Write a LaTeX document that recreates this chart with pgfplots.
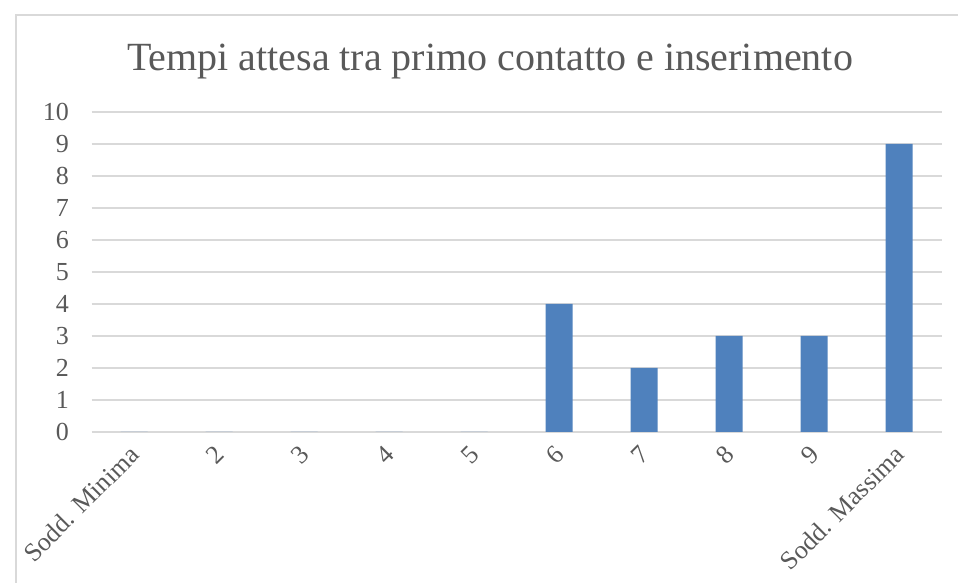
\documentclass[border=0pt]{standalone}
\usepackage{pgfplots}
\pgfplotsset{compat=1.18}
\usepackage{fontspec}
\setmainfont{Liberation Serif}
\definecolor{barblue}{RGB}{79,129,189}
\definecolor{gridgray}{RGB}{217,217,217}
\definecolor{txtgray}{RGB}{89,89,89}
\begin{document}
\begin{tikzpicture}[x=1pt,y=1pt]
\useasboundingbox (0,0) rectangle (958,583);
\draw[gridgray, line width=1.5pt] (16,-5) -- (16,568) -- (965,568);
\node[txtgray, font=\fontsize{40}{46}\selectfont] at (490,521) {Tempi attesa tra primo contatto e inserimento};
\begin{axis}[
  at={(91.5pt,151pt)}, anchor=south west,
  scale only axis, width=850pt, height=320pt,
  xmin=-0.5, xmax=9.5, ymin=0, ymax=10,
  ytick={0,1,...,10},
  xtick={0,1,...,9},
  xticklabels={Sodd. Minima,2,3,4,5,6,7,8,9,Sodd. Massima},
  axis line style={draw=none},
  major tick length=0pt,
  ymajorgrids,
  grid style={gridgray, line width=1.3pt},
  /pgf/number format/assume math mode=true,
  ticklabel style={txtgray, font=\fontsize{26}{30}\selectfont},
  yticklabel style={xshift=-19pt},
  xticklabel style={xshift=3pt, yshift=-16pt, rotate=45, anchor=east},
]
\addplot[ybar, fill=barblue, draw=none, bar width=27pt] coordinates {
  (0,0) (1,0) (2,0) (3,0) (4,0) (5,4) (6,2) (7,3) (8,3) (9,9)
};
\end{axis}
\end{tikzpicture}
\end{document}
